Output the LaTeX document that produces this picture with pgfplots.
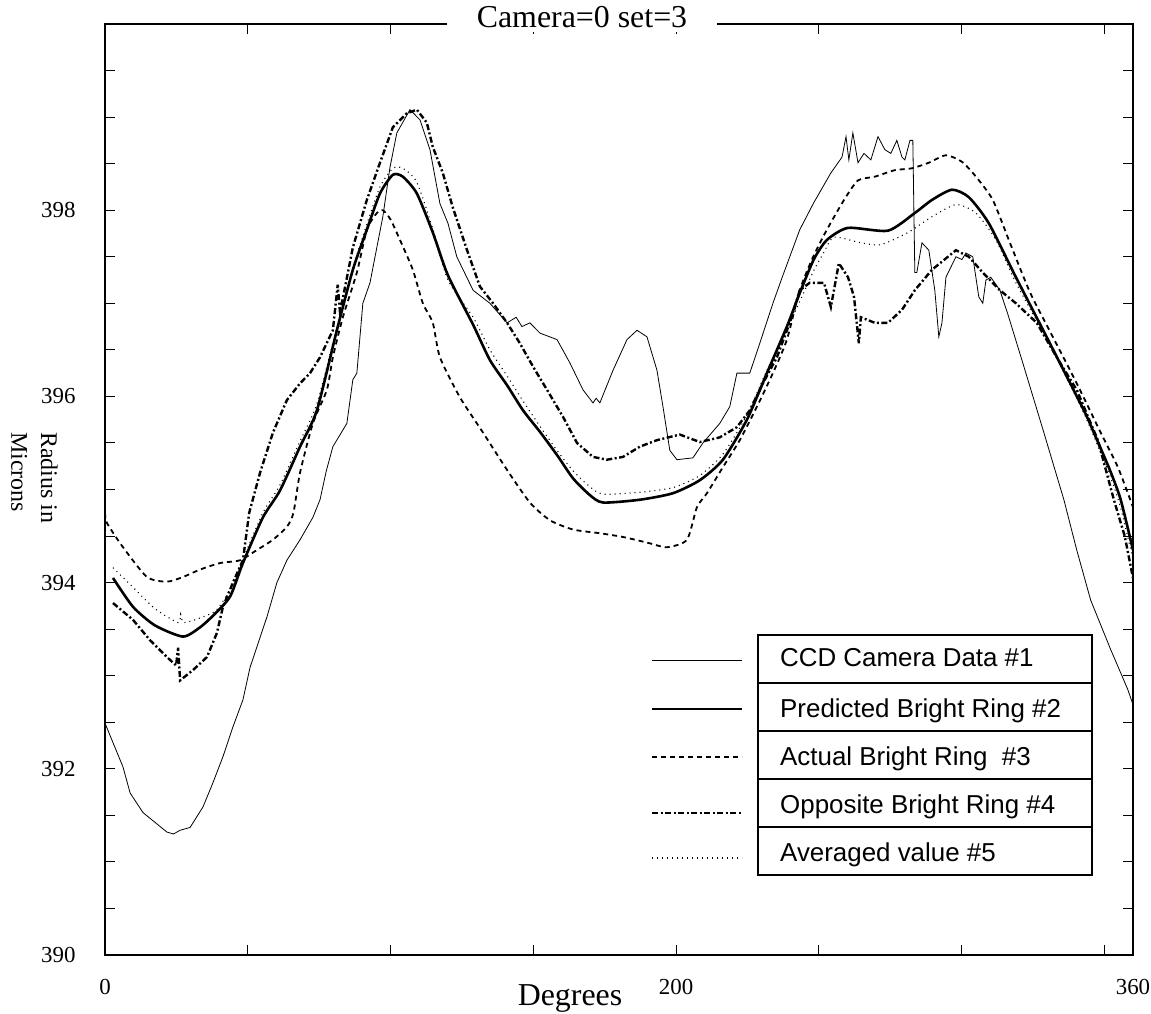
\documentclass[border=0pt]{standalone}
\usepackage{fontspec}
\setmainfont{Liberation Serif}
\newfontfamily\legfont{Liberation Sans}
\usepackage{pgfplots}
\pgfplotsset{compat=1.18}

% CCD Camera Data #1
\pgfplotstableread{
x y
0 392.49
6.3 392.02
8.8 391.74
13.3 391.53
21.7 391.32
24 391.30
26.3 391.34
29.8 391.37
34.3 391.59
37.8 391.85
41.3 392.13
44.8 392.45
48.3 392.74
50.8 393.09
53.2 393.31
56.7 393.63
60.2 394.00
63.7 394.24
68.3 394.46
72.8 394.70
75.3 394.89
77.5 395.20
79.8 395.46
84.7 395.71
86.8 396.18
88.2 396.25
90.3 397.00
92.8 397.22
95.2 397.60
97.3 397.93
99.8 398.46
102.2 398.83
106.8 399.08
110.3 398.97
113.8 398.65
117.3 398.07
120.1 397.86
123.2 397.50
128.9 397.14
134.8 397.00
140.8 396.79
144 396.85
146 396.75
148.8 396.79
152.3 396.68
158.3 396.61
162.8 396.36
167.4 396.07
170.9 395.93
172 395.98
173.3 395.93
177.9 396.28
182.8 396.61
186.3 396.71
189.8 396.64
193.3 396.28
195.4 395.89
197.8 395.42
200.3 395.32
205.9 395.34
209.4 395.50
215.3 395.71
218.8 395.89
221.3 396.25
225.8 396.25
229.3 396.57
233.9 397.00
237.4 397.30
243.3 397.79
248.2 398.08
254.2 398.40
258.1 398.57
259.5 398.79
260.5 398.54
261.9 398.83
263.7 398.51
265.8 398.61
268.2 398.54
270.7 398.79
273.1 398.65
275.2 398.61
277.3 398.75
279.1 398.57
280.1 398.54
281.9 398.75
282.9 398.75
283.6 397.33
284.3 397.33
286.1 397.65
288.5 397.57
290.6 397.14
292.0 396.64
293.1 396.79
294.5 397.28
298.0 397.50
300.1 397.47
301.5 397.54
303.9 397.50
306.0 397.07
307.4 397.00
308.5 397.25
310.2 397.28
313.4 397.14
316 396.90
321.4 396.36
328.8 395.61
335.8 394.89
340.3 394.35
345.2 393.81
352.2 393.28
358.2 392.85
360 392.69
}\ccd

% Predicted Bright Ring #2
\pgfplotstableread{
x y
2.8 394.05
9.8 393.74
17.5 393.54
27.3 393.42
33.3 393.52
38 393.65
43.8 393.85
48.3 394.21
55.3 394.70
61.3 394.99
68.3 395.46
74.2 395.85
81.2 396.71
86.8 397.36
91.7 397.79
96.3 398.18
100.8 398.38
104.3 398.36
109.2 398.18
114.8 397.76
120.1 397.30
128.9 396.77
134.8 396.39
140.8 396.12
146.4 395.85
152.3 395.62
158.3 395.37
163.9 395.12
169.8 394.94
174.4 394.86
187.3 394.89
198.9 394.96
208.3 395.10
216.4 395.32
224.8 395.75
231.8 396.25
238.8 396.75
243.3 397.11
248.2 397.47
252.8 397.68
260.2 397.81
274.2 397.78
283.6 397.97
289.6 398.11
296.6 398.22
302.5 398.14
309.5 397.86
319.0 397.28
330.9 396.57
342.8 395.85
346.3 395.61
351.9 395.21
355.7 394.89
360 394.35
}\pred

% Actual Bright Ring #3
\pgfplotstableread{
x y
0 394.75
0.7 394.64
6.3 394.38
14.7 394.06
21.7 394.01
27.3 394.06
33.3 394.14
40.3 394.21
47.3 394.24
53.2 394.35
58.8 394.46
63.7 394.60
66 394.75
68.3 395.18
72.8 395.71
77.7 396.07
79.8 396.42
83.3 396.85
88.2 397.33
91.7 397.79
95.2 397.97
97.3 398.00
100 397.90
103.3 397.68
107.8 397.36
111.3 397.00
114.8 396.79
117.3 396.42
124.3 395.99
132.4 395.61
140.8 395.21
148.8 394.86
155.8 394.67
163.9 394.57
173.3 394.53
181.4 394.49
189.8 394.43
196.8 394.38
203.8 394.46
207.3 394.81
210.8 394.96
216.4 395.24
222.3 395.53
228.3 395.89
233.9 396.25
238.8 396.61
243.3 397.14
248 397.50
252.8 397.79
258.8 398.11
263.7 398.32
269.6 398.36
276.6 398.43
282.6 398.45
288.5 398.51
294.5 398.59
300.1 398.52
305.0 398.36
310.9 398.11
316.9 397.65
323.9 397.12
330.9 396.70
340.3 396.14
348.7 395.61
354.7 395.24
360 394.81
}\act

% Opposite Bright Ring #4
\pgfplotstableread{
x y
2.8 393.78
9.8 393.60
15.8 393.38
21.7 393.20
24.9 393.11
25.6 393.30
26.3 392.95
30.8 393.06
35.7 393.20
39.2 393.46
41.3 393.74
44.8 394.00
48.3 394.24
50.5 394.75
54.3 395.18
58.8 395.61
63.7 395.96
68.3 396.14
71.8 396.25
75.3 396.42
79.8 396.71
81.5 397.20
82.3 396.90
86.8 397.60
91.7 398.11
96.3 398.51
100.8 398.89
105.7 399.04
109.2 399.08
112.7 398.94
114.8 398.68
118.3 398.40
121.8 398.03
126.8 397.57
131.3 397.18
135.9 397.00
140.8 396.79
145.3 396.57
149.9 396.32
154.8 396.07
160.4 395.78
165.3 395.50
170.9 395.35
175.8 395.32
181.4 395.35
187.3 395.46
193.3 395.53
201.3 395.59
208.3 395.51
215.3 395.56
221.3 395.67
225.8 395.85
230.4 396.14
235.3 396.42
239.8 396.79
243.3 397.14
246.8 397.22
251.8 397.22
254.2 396.96
257.0 397.43
260.2 397.28
262.3 397.07
264.0 396.57
264.7 396.85
269.6 396.79
274.2 396.79
279.1 396.93
283.6 397.14
289.6 397.36
298.0 397.57
302.5 397.50
307.4 397.33
313.4 397.14
319.0 397.00
326.3 396.79
333.3 396.42
340.3 396.07
347.7 395.53
353.3 394.89
357.1 394.50
360 394.05
}\opp

% Averaged value #5
\pgfplotstableread{
x y
2.8 394.16
9.8 393.95
17.5 393.72
25.6 393.57
26.5 393.66
27.5 393.57
33.3 393.62
39.2 393.71
44.8 393.98
48.3 394.25
55.3 394.75
61.3 395.05
68.3 395.52
74.2 395.92
81.2 396.74
86.8 397.38
91.7 397.85
96.3 398.25
100.8 398.45
104.3 398.45
109.2 398.30
114.8 397.80
120.1 397.25
128.9 396.85
134.8 396.50
140.8 396.22
146.4 395.95
152.3 395.68
158.3 395.42
163.9 395.20
169.8 395.03
174.4 394.95
187.3 394.97
198.9 395.02
208.3 395.15
216.4 395.38
224.8 395.80
231.8 396.28
238.8 396.72
243.3 397.02
248.2 397.35
251.8 397.55
255.3 397.71
264.7 397.65
271.7 397.63
281.2 397.76
289.6 397.93
298.0 398.06
305.0 397.97
312.0 397.68
319.0 397.22
330.9 396.55
342.8 395.82
351.9 395.15
355.7 394.80
360 394.25
}\avg

\begin{document}
\begin{tikzpicture}
\path[use as bounding box] (-105bp,-59bp) rectangle (1046bp,955bp);
\begin{axis}[
  name=ax, at={(0,0)}, anchor=south west,
  scale only axis, width=1028bp, height=931bp,
  xmin=0, xmax=360, ymin=390, ymax=400,
  xtick={0,200,360}, minor xtick={50,100,150,250,300,350},
  ytick={390,392,394,396,398},
  minor ytick={390.5,391,391.5,392.5,393,393.5,394.5,395,395.5,396.5,397,397.5,398.5,399,399.5},
  tick align=inside, major tick length=10bp, minor tick length=10bp,
  every tick/.style={black, line width=1bp},
  axis line style={line width=1.3bp},
  tick label style={font=\fontsize{23}{27}\selectfont},
  /pgf/number format/assume math mode=true,
  xticklabel style={yshift=-21bp},
  yticklabel style={xshift=-26bp},
]
\addplot[black, line width=1.1bp, dash pattern=on 1bp off 4bp, smooth, tension=0.4] table {\avg};
\addplot[black, line width=0.8bp] table {\ccd};
\addplot[black, line width=1.8bp, dash pattern=on 5bp off 4bp, smooth, tension=0.4] table {\act};
\addplot[black, line width=2.4bp, dash pattern=on 6bp off 2.5bp on 2bp off 2.5bp] table {\opp};
\addplot[black, line width=2.6bp, smooth, tension=0.4] table {\pred};
\end{axis}

\begin{scope}[shift={(ax.south west)}]
% title interrupting the top frame line
\node[fill=white, inner xsep=30bp, inner ysep=4bp, anchor=base,
      font=\fontsize{32}{36}\selectfont] at (477bp,927bp) {Camera=0 set=3};
% axis labels
\node[anchor=base, font=\fontsize{32}{36}\selectfont] at (465bp,-50bp) {Degrees};
\node[rotate=-90, anchor=north west, align=left, inner sep=0pt,
      font=\fontsize{24}{30}\selectfont] at (-47bp,523bp) {Radius in\\Microns};
% legend
\draw[line width=1.3bp, fill=white] (653bp,80bp) rectangle (987bp,320bp);
\foreach \yy in {128,176,224,272} \draw[line width=1.3bp] (653bp,\yy bp) -- (987bp,\yy bp);
\begin{scope}[font=\legfont\fontsize{26}{30}\selectfont]
\node[anchor=base west, inner sep=0pt] at (675bp,288bp) {CCD Camera Data \#1};
\node[anchor=base west, inner sep=0pt] at (675bp,237bp) {Predicted Bright Ring \#2};
\node[anchor=base west, inner sep=0pt] at (675bp,189bp) {Actual Bright Ring\ \ \#3};
\node[anchor=base west, inner sep=0pt] at (675bp,141bp) {Opposite Bright Ring \#4};
\node[anchor=base west, inner sep=0pt] at (675bp,93bp) {Averaged value \#5};
\end{scope}
\draw[line width=0.8bp] (547bp,295bp) -- (637bp,295bp);
\draw[line width=2.6bp] (547bp,246bp) -- (637bp,246bp);
\draw[line width=1.8bp, dash pattern=on 5bp off 4bp] (547bp,198bp) -- (637bp,198bp);
\draw[line width=2.4bp, dash pattern=on 6bp off 2.5bp on 2bp off 2.5bp] (547bp,142bp) -- (637bp,142bp);
\draw[line width=1.1bp, dash pattern=on 1bp off 4bp] (547bp,97bp) -- (637bp,97bp);
\end{scope}
\end{tikzpicture}
\end{document}
